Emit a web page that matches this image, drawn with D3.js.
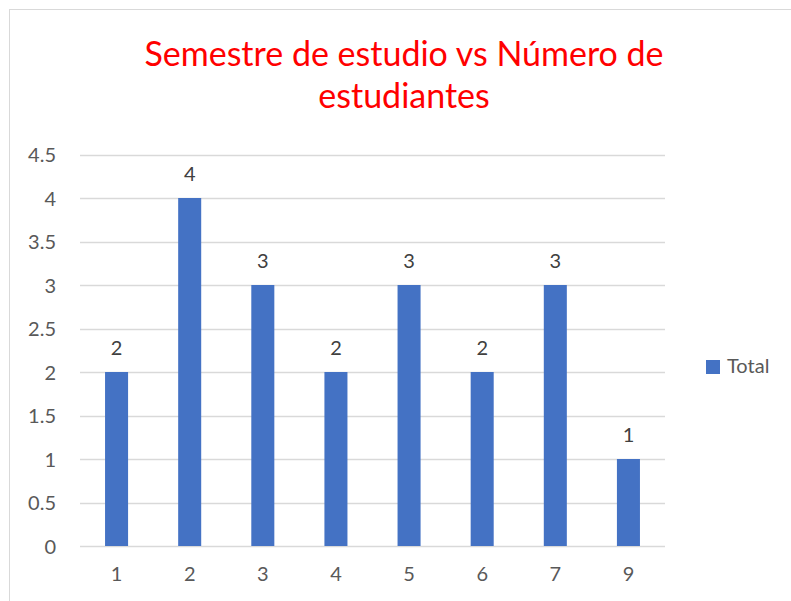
<!DOCTYPE html>
<meta charset="utf-8">
<style>
  body { margin: 0; background: #fff; }
  text { font-family: Lato, "Open Sans", sans-serif; }
  .tick text { fill: #595959; font-size: 20px; }
  .grid line { stroke: #d9d9d9; }
</style>
<body>
<script src="https://d3js.org/d3.v7.min.js"></script>
<script>
// semestre de estudio -> numero de estudiantes
var semestres = ["1", "2", "3", "4", "5", "6", "7", "9"];
var totales = [2, 4, 3, 2, 3, 2, 3, 1];
var yTicks = [0, 0.5, 1, 1.5, 2, 2.5, 3, 3.5, 4, 4.5];
var titulo = ["Semestre de estudio vs Número de", "estudiantes"];
var serie = "Total";

var width = 791,
    height = 601;
var margin = {top: 154.5, left: 80, right: 126, bottom: 55};

var svg = d3.select("body").append("svg")
    .attr("width", width)
    .attr("height", height);

svg.append("rect")
    .attr("x", 9.5).attr("y", 9.5)
    .attr("width", 800).attr("height", 600)
    .attr("fill", "#fff")
    .attr("stroke", "#d9d9d9");

var x = d3.scaleBand()
    .domain(semestres)
    .range([margin.left, width - margin.right])
    .paddingInner(0.685)
    .paddingOuter(0.3425);

var y = d3.scaleLinear()
    .domain([0, 4.5])
    .range([height - margin.bottom, margin.top]);

// gridlines
svg.append("g")
    .attr("class", "grid")
    .selectAll("line")
    .data(yTicks)
  .enter().append("line")
    .attr("x1", margin.left)
    .attr("x2", width - margin.right)
    .attr("y1", function(d) { return Math.round(y(d)) + 0.5; })
    .attr("y2", function(d) { return Math.round(y(d)) + 0.5; })
    .attr("stroke-width", 1.5);

var yAxis = svg.append("g")
    .attr("transform", "translate(" + (margin.left - 14) + ",1)")
    .call(d3.axisLeft(y).tickValues(yTicks).tickSize(0).tickPadding(10).tickFormat(d3.format("")));
yAxis.select(".domain").remove();

var xAxis = svg.append("g")
    .attr("transform", "translate(0," + (height - margin.bottom) + ")")
    .call(d3.axisBottom(x).tickSize(0).tickPadding(21));
xAxis.select(".domain").remove();

svg.selectAll(".bar")
    .data(totales)
  .enter().append("rect")
    .attr("class", "bar")
    .attr("x", function(d, i) { return x(semestres[i]); })
    .attr("width", x.bandwidth())
    .attr("y", function(d) { return y(d); })
    .attr("height", function(d) { return y(0) - y(d); })
    .attr("fill", "#4472c4");

svg.selectAll(".label")
    .data(totales)
  .enter().append("text")
    .attr("class", "label")
    .attr("x", function(d, i) { return x(semestres[i]) + x.bandwidth() / 2; })
    .attr("y", function(d) { return y(d) - 17; })
    .attr("text-anchor", "middle")
    .attr("fill", "#404040")
    .style("font-size", "20px")
    .text(function(d) { return d; });

svg.selectAll(".title")
    .data(titulo)
  .enter().append("text")
    .attr("class", "title")
    .attr("x", 404)
    .attr("y", function(d, i) { return 66 + i * 42; })
    .attr("text-anchor", "middle")
    .attr("fill", "#ff0000")
    .style("font-size", "34px")
    .text(function(d) { return d; });

// legend
var legend = svg.append("g").attr("transform", "translate(706,360)");
legend.append("rect")
    .attr("width", 14).attr("height", 14)
    .attr("fill", "#4472c4");
legend.append("text")
    .attr("x", 21).attr("y", 13)
    .attr("fill", "#595959")
    .style("font-size", "20px")
    .text(serie);
</script>
</body>
